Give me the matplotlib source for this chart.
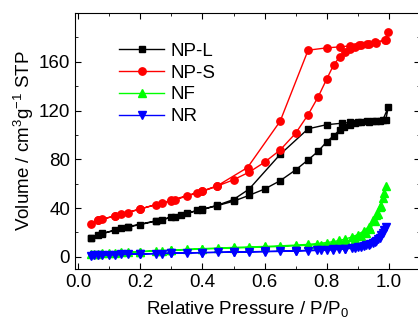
import matplotlib
matplotlib.use("Agg")
import matplotlib.pyplot as plt
from matplotlib.ticker import MultipleLocator

plt.rcParams["font.family"] = ["Liberation Sans", "DejaVu Sans"]
plt.rcParams["mathtext.default"] = "regular"

# --- NP-L (adsorption + desorption) ---
npl_p = [0.04, 0.064, 0.078, 0.118, 0.139, 0.159, 0.198, 0.25, 0.271, 0.30, 0.332,
         0.35, 0.384, 0.40, 0.448, 0.50, 0.55, 0.60, 0.65, 0.70, 0.74, 0.772, 0.80,
         0.822, 0.841, 0.857, 0.876, 0.89, 0.911, 0.936, 0.959, 0.98, 0.998,
         0.99, 0.97, 0.95, 0.93, 0.90, 0.875, 0.85, 0.80, 0.74, 0.65, 0.55, 0.50,
         0.448, 0.40, 0.311, 0.25, 0.159, 0.078, 0.04]
npl_v = [15.5, 17.9, 19.0, 21.7, 23.6, 24.4, 26.3, 29.3, 30.4, 32.5, 34.7,
         36.0, 38.0, 38.8, 42.0, 45.6, 50.4, 55.6, 62.4, 71.3, 79.5, 86.5, 94.4,
         99.3, 103.9, 106.6, 108.5, 109.8, 110.4, 110.6, 111.2, 112.0, 122.8,
         112.5, 111.8, 111.5, 111.0, 110.8, 110.2, 109.6, 108.4, 105.0, 84.0, 55.5, 47.0,
         42.3, 39.0, 33.0, 29.5, 24.6, 19.2, 15.6]

# --- NP-S ---
nps_p = [0.04, 0.064, 0.078, 0.118, 0.139, 0.159, 0.198, 0.25, 0.271, 0.30, 0.311,
         0.35, 0.384, 0.40, 0.448, 0.50, 0.55, 0.60, 0.65, 0.70, 0.74, 0.772, 0.80,
         0.822, 0.841, 0.86, 0.876, 0.89, 0.911, 0.936, 0.959, 0.986, 0.998,
         0.99, 0.955, 0.93, 0.905, 0.874, 0.841, 0.80, 0.74, 0.65, 0.545, 0.448,
         0.40, 0.30, 0.20, 0.118, 0.064]
nps_v = [26.6, 29.8, 30.9, 33.4, 35.3, 36.3, 39.0, 42.8, 43.9, 46.0, 46.6,
         49.9, 52.3, 53.7, 58.0, 63.2, 69.4, 77.6, 87.6, 101.4, 116.6, 131.0, 145.9,
         157.3, 163.8, 168.0, 170.8, 172.0, 173.6, 174.4, 175.7, 177.6, 184.4,
         177.6, 176.0, 174.4, 173.6, 173.0, 172.2, 171.4, 169.5, 111.2, 73.2, 58.3,
         54.0, 46.4, 39.3, 33.6, 30.0]

# --- NF ---
nf_p = [0.04, 0.064, 0.078, 0.118, 0.139, 0.159, 0.198, 0.25, 0.271, 0.30, 0.35,
        0.40, 0.45, 0.50, 0.55, 0.60, 0.65, 0.70, 0.74, 0.77, 0.80, 0.82, 0.84,
        0.86, 0.88, 0.90, 0.92, 0.935, 0.95, 0.96, 0.97, 0.98, 0.99,
        0.985, 0.975, 0.965, 0.955, 0.94, 0.925, 0.91, 0.89, 0.86, 0.82, 0.78,
        0.70, 0.60, 0.50, 0.40, 0.30, 0.20, 0.10, 0.05]
nf_v = [2.0, 2.5, 2.8, 3.3, 3.6, 3.8, 4.3, 4.9, 5.1, 5.5, 6.1,
        6.7, 7.2, 7.7, 8.1, 8.5, 9.0, 9.6, 10.2, 10.9, 11.7, 12.4, 13.4,
        14.6, 16.2, 18.3, 21.3, 24.8, 30.0, 34.5, 40.7, 48.0, 58.0,
        52.0, 42.0, 35.0, 29.0, 23.0, 19.5, 16.8, 14.4, 12.5, 11.0, 10.0,
        9.0, 8.0, 7.2, 6.4, 5.3, 4.2, 3.0, 2.2]

# --- NR ---
nr_p = [0.04, 0.064, 0.078, 0.118, 0.139, 0.159, 0.198, 0.25, 0.271, 0.30, 0.35,
        0.40, 0.45, 0.50, 0.55, 0.60, 0.65, 0.70, 0.74, 0.77, 0.80, 0.82, 0.84,
        0.86, 0.88, 0.90, 0.92, 0.935, 0.95, 0.96, 0.97, 0.98, 0.99,
        0.985, 0.975, 0.965, 0.955, 0.94, 0.925, 0.91, 0.89, 0.86, 0.82, 0.78,
        0.70, 0.60, 0.50, 0.40, 0.30, 0.20, 0.10, 0.05]
nr_v = [1.0, 1.2, 1.4, 1.7, 1.9, 2.0, 2.3, 2.6, 2.7, 2.9, 3.2,
        3.4, 3.6, 3.8, 4.0, 4.2, 4.4, 4.7, 5.0, 5.2, 5.5, 5.8, 6.1,
        6.5, 7.0, 7.8, 8.8, 9.8, 11.5, 13.0, 15.5, 19.5, 24.5,
        22.0, 17.5, 14.5, 12.5, 10.5, 9.3, 8.4, 7.5, 6.8, 6.1, 5.6,
        5.0, 4.4, 3.9, 3.5, 3.0, 2.4, 1.8, 1.2]

fig = plt.figure(figsize=(4.18, 3.25), dpi=100)
ax = fig.add_axes([75 / 418, 56 / 325, 345 / 418, 256 / 325])

ax.plot(npl_p, npl_v, color="black", marker="s", ms=4.8, lw=1, label="NP-L")
ax.plot(nps_p, nps_v, color="#ff0000", marker="o", ms=5.3, lw=1, label="NP-S")
ax.plot(nf_p, nf_v, color="#00ff00", marker="^", ms=6, lw=1, label="NF")
ax.plot(nr_p, nr_v, color="#0000ff", marker="v", ms=6, lw=1, label="NR")

ax.set_xlim(-0.01, 1.1)
ax.set_ylim(-10, 200)
ax.xaxis.set_major_locator(MultipleLocator(0.2))
ax.xaxis.set_minor_locator(MultipleLocator(0.1))
ax.yaxis.set_major_locator(MultipleLocator(40))
ax.yaxis.set_minor_locator(MultipleLocator(20))
ax.tick_params(which="both", direction="in", top=True, right=True, labelsize=13.5)
ax.tick_params(which="major", length=4)
ax.tick_params(which="minor", length=2.5)
ax.set_yticks([0, 40, 80, 120, 160])

ax.set_xlabel("Relative Pressure / P/P$_0$", fontsize=13.5, labelpad=6)
ax.set_ylabel("Volume / cm$^3$g$^{-1}$ STP", fontsize=13.5, labelpad=2)

ax.legend(loc="upper left", bbox_to_anchor=(0.08, 0.95), frameon=False,
          fontsize=13.5, handlelength=2.4, labelspacing=0.25, handletextpad=0.3)

fig.savefig("out.png", dpi=100)
